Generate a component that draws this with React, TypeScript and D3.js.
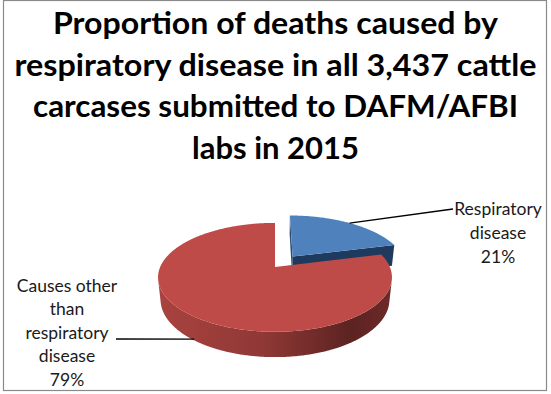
import React from "react";
import * as d3 from "d3";

// ---------- data ----------
const categories = ["Respiratory disease", "Causes other than respiratory disease"];
const values = [21, 79];
const labelLines = [
  ["Respiratory", "disease"],
  ["Causes other", "than", "respiratory", "disease"],
];
const titleLines = [
  "Proportion of deaths caused by",
  "respiratory disease in all 3,437 cattle",
  "carcases submitted to DAFM/AFBI",
  "labs in 2015",
];
const explodeAmount = [0.26, 0];

// ---------- layout ----------
const W = 551;
const H = 394;
const CX = 275;
const CY = 267;
const FOCAL = 538.6;
const DIST = 4.69;
const PHI = (27.2 * Math.PI) / 180;
const THICK = 0.22;
const cosP = Math.cos(PHI);
const sinP = Math.sin(PHI);
const CAM = [0, DIST * sinP, -DIST * cosP];

const titleX = 275.5;
const titleBaselines = [34, 75.5, 117, 158.5];
const titleWidths = [445, 522, 485, 167];
const labelAnchors = [
  { x: 498, y: 215, lineX: 453, lineY: 209, dy: 24, wallY: 0 },
  { x: 67, y: 292, lineX: 116, lineY: 339, dy: 23.4, wallY: -0.95 },
];
const topColors = ["#4F81BD", "#BE4B48"];
const cutColors = ["#1E3A5F", "#7A2E2C"];
const startCutColors = ["#2B4C74", "#8E3734"];

function proj(X: number, Y: number, Z: number): [number, number] {
  const up = Y * cosP + Z * sinP;
  const depth = DIST + Z * cosP - Y * sinP;
  return [CX + (FOCAL * X) / depth, CY - (FOCAL * up) / depth];
}

const line = d3.line<[number, number]>();
const pct = d3.format(".0%");

export default function App() {
  const total = d3.sum(values);
  const arcs = d3.pie<number>().sort(null).value((d) => d)(values);

  const slices = arcs.map((a, i) => {
    const a0 = a.startAngle;
    const a1 = a.endAngle;
    const mid = (a0 + a1) / 2;
    const ox = explodeAmount[i] * Math.sin(mid);
    const oz = explodeAmount[i] * Math.cos(mid);
    const n = Math.max(8, Math.ceil((a1 - a0) / 0.01));
    const angles = d3.range(n + 1).map((k) => a0 + ((a1 - a0) * k) / n);
    const rim = (t: number, Y: number) => proj(ox + Math.sin(t), Y, oz + Math.cos(t));
    const ctr = (Y: number) => proj(ox, Y, oz);

    const topPts: [number, number][] = [ctr(0), ...angles.map((t) => rim(t, 0))];

    const facing = (t: number) => {
      const px = ox + Math.sin(t);
      const pz = oz + Math.cos(t);
      return Math.sin(t) * (CAM[0] - px) + Math.cos(t) * (CAM[2] - pz) > 0;
    };
    const runs: number[][] = [];
    let cur: number[] = [];
    angles.forEach((t) => {
      if (facing(t)) cur.push(t);
      else if (cur.length) {
        runs.push(cur);
        cur = [];
      }
    });
    if (cur.length) runs.push(cur);
    const walls = runs
      .filter((r) => r.length > 1)
      .map((r) => [...r.map((t) => rim(t, 0)), ...r.slice().reverse().map((t) => rim(t, -THICK))] as [number, number][]);

    const cuts: { pts: [number, number][]; color: string }[] = [];
    const faceFacing = (ang: number, nx: number, nz: number) => {
      const px = ox + 0.5 * Math.sin(ang);
      const pz = oz + 0.5 * Math.cos(ang);
      return nx * (CAM[0] - px) + nz * (CAM[2] - pz) > 0;
    };
    if (faceFacing(a0, -Math.cos(a0), Math.sin(a0))) {
      cuts.push({ pts: [ctr(0), rim(a0, 0), rim(a0, -THICK), ctr(-THICK)], color: startCutColors[i] });
    }
    if (faceFacing(a1, Math.cos(a1), -Math.sin(a1))) {
      cuts.push({ pts: [ctr(0), rim(a1, 0), rim(a1, -THICK), ctr(-THICK)], color: cutColors[i] });
    }

    const anchor = rim(mid, labelAnchors[i].wallY * THICK);
    return { i, topPts, walls, cuts, anchor, depthKey: oz, value: a.data };
  });

  const order = slices.slice().sort((p, q) => q.depthKey - p.depthKey);

  return (
    <svg
      width={W}
      height={H}
      style={{ position: "absolute", left: 0, top: 0, background: "#fff" }}
      fontFamily="Lato, 'Open Sans', sans-serif"
    >
      <defs>
        <linearGradient id="wall0" gradientUnits="userSpaceOnUse" x1={280} x2={400} y1={0} y2={0}>
          <stop offset="0" stopColor="#2A4A72" />
          <stop offset="1" stopColor="#1A3354" />
        </linearGradient>
        <linearGradient id="wall1" gradientUnits="userSpaceOnUse" x1={158} x2={393} y1={0} y2={0}>
          <stop offset="0" stopColor="#A9433F" />
          <stop offset="0.45" stopColor="#8F3835" />
          <stop offset="0.82" stopColor="#5C2321" />
          <stop offset="1" stopColor="#6E2A28" />
        </linearGradient>
      </defs>
      <rect x={0} y={0} width={W} height={H} fill="#fff" />
      <rect x={3.5} y={0.5} width={543} height={390} fill="none" stroke="#8a8a8a" strokeWidth={1.2} />

      {titleLines.map((t, k) => (
        <text
          key={k}
          x={titleX}
          y={titleBaselines[k]}
          textAnchor="middle"
          fontWeight="bold"
          fontSize={30}
          textLength={titleWidths[k]}
          lengthAdjust="spacingAndGlyphs"
          fill="#000"
        >
          {t}
        </text>
      ))}

      {order.map((s) => (
        <g key={s.i}>
          {s.walls.map((w, k) => (
            <path key={"w" + k} d={line(w) + "Z"} fill={`url(#wall${s.i})`} />
          ))}
          {s.cuts.map((c, k) => (
            <path key={"c" + k} d={line(c.pts) + "Z"} fill={c.color} />
          ))}
          <path d={line(s.topPts) + "Z"} fill={topColors[s.i]} />
        </g>
      ))}

      {slices.map((s) => {
        const la = labelAnchors[s.i];
        const lines = [...labelLines[s.i], pct(s.value / total)];
        return (
          <g key={"lab" + s.i}>
            <line x1={la.lineX} y1={la.lineY} x2={s.anchor[0]} y2={s.anchor[1]} stroke="#000" strokeWidth={1.3} />
            <text textAnchor="middle" fontSize={17.5} fill="#1a1a1a">
              {lines.map((l, k) => (
                <tspan key={k} x={la.x} y={la.y + k * la.dy}>
                  {l}
                </tspan>
              ))}
            </text>
          </g>
        );
      })}
      <title>{categories.join(" / ")}</title>
    </svg>
  );
}
